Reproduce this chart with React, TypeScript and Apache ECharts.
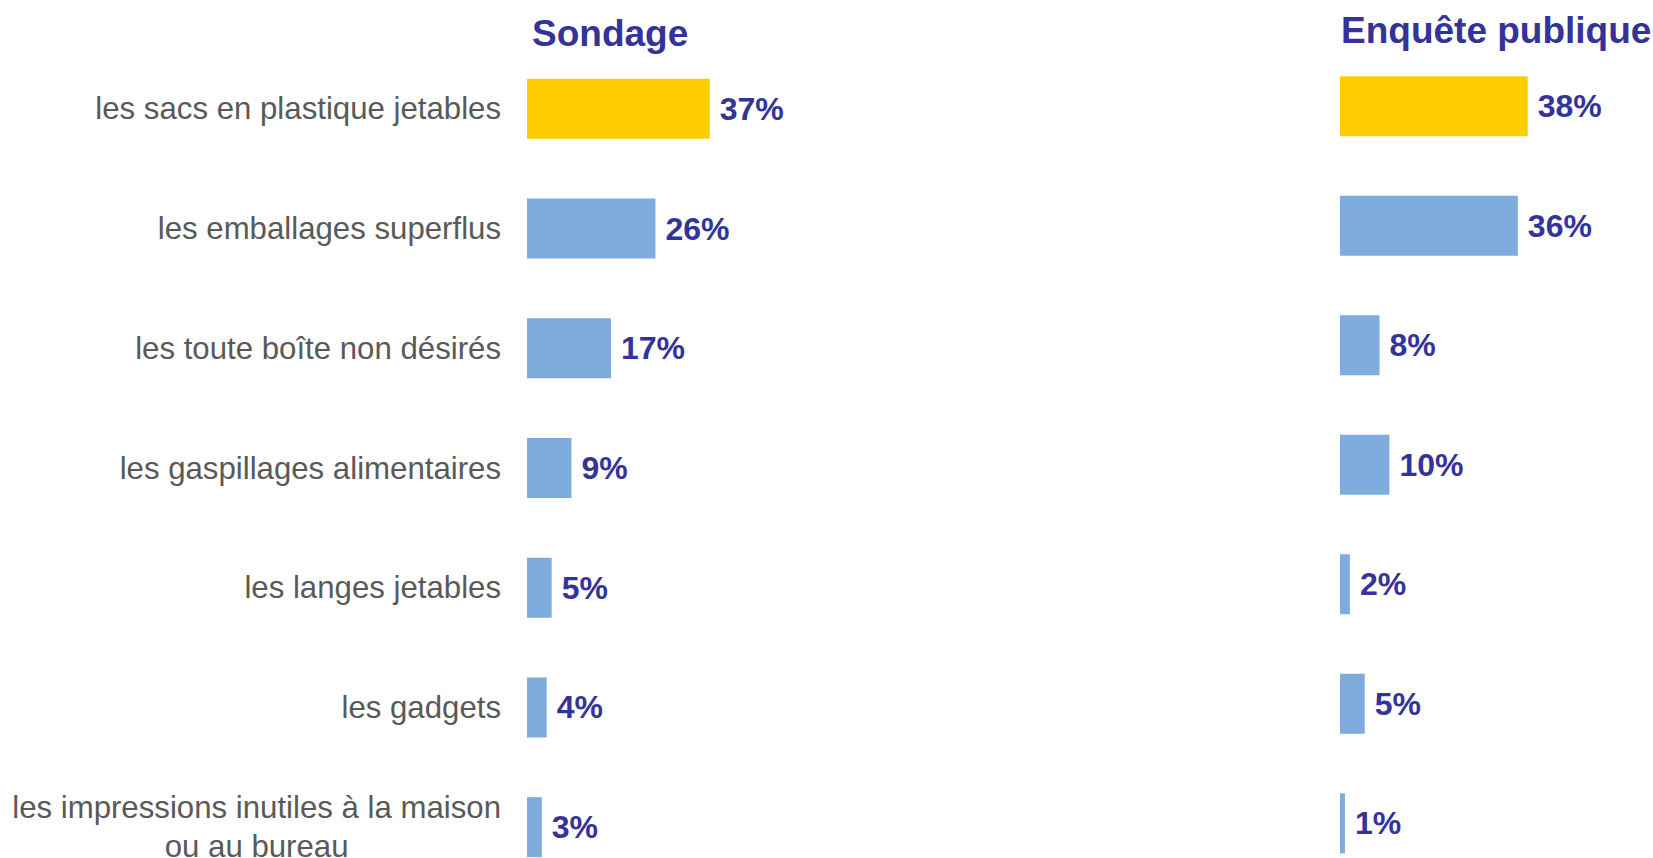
import React, { useEffect, useRef } from "react";
import * as echarts from "echarts";

const categories = [
  "les sacs en plastique jetables",
  "les emballages superflus",
  "les toute boîte non désirés",
  "les gaspillages alimentaires",
  "les langes jetables",
  "les gadgets",
  "les impressions inutiles à la maison\nou au bureau",
];
const sondageValues = [37, 26, 17, 9, 5, 4, 3];
const enqueteValues = [38, 36, 8, 10, 2, 5, 1];
const titles = ["Sondage", "Enquête publique"];

const FONT = "'Liberation Sans', Arial, Helvetica, sans-serif";
const GOLD = "#FFCC00";
const BLUE = "#7DACDD";
const NAVY = "#333399";
const PX_PER_PCT = 4.94;
const XMAX = 60;

function barData(values: number[]) {
  return values.map((v, i) => ({
    value: v,
    itemStyle: { color: i === 0 ? GOLD : BLUE },
  }));
}

export default function App() {
  const ref = useRef<HTMLDivElement>(null);
  useEffect(() => {
    document.body.style.margin = "0";
    document.body.style.overflow = "hidden";
    const chart = echarts.init(ref.current!, undefined, { renderer: "svg" });
    const gridW = XMAX * PX_PER_PCT;
    const labelStyle = {
      show: true,
      position: "right" as const,
      distance: 10,
      formatter: "{c}%",
      color: NAVY,
      fontFamily: FONT,
      fontWeight: "bold" as const,
      fontSize: 32,
    };
    chart.setOption({
      animation: false,
      backgroundColor: "#ffffff",
      title: [
        {
          text: titles[0],
          left: 527,
          top: 10,
          textStyle: { color: NAVY, fontFamily: FONT, fontWeight: "bold", fontSize: 37 },
        },
        {
          text: titles[1],
          left: 1336,
          top: 7,
          textStyle: { color: NAVY, fontFamily: FONT, fontWeight: "bold", fontSize: 37 },
        },
      ],
      grid: [
        { left: 527, top: 49, width: gridW, height: 838 },
        { left: 1340, top: 46.5, width: gridW, height: 836.5 },
      ],
      xAxis: [
        { type: "value", gridIndex: 0, min: 0, max: XMAX, show: false },
        { type: "value", gridIndex: 1, min: 0, max: XMAX, show: false },
      ],
      yAxis: [
        {
          type: "category",
          gridIndex: 0,
          inverse: true,
          data: categories,
          axisLine: { show: false },
          axisTick: { show: false },
          splitLine: { show: false },
          axisLabel: {
            margin: 26,
            align: "right",
            formatter: (v: string) =>
              v.split("\n").map((l) => "{a|" + l + "}").join("\n"),
            rich: {
              a: {
                align: "center",
                color: "#595959",
                fontFamily: FONT,
                fontSize: 31.2,
                lineHeight: 39,
              },
            },
          },
        },
        {
          type: "category",
          gridIndex: 1,
          inverse: true,
          data: categories,
          axisLine: { show: false },
          axisTick: { show: false },
          splitLine: { show: false },
          axisLabel: { show: false },
        },
      ],
      series: [
        {
          type: "bar",
          xAxisIndex: 0,
          yAxisIndex: 0,
          barWidth: 60,
          data: barData(sondageValues),
          label: labelStyle,
        },
        {
          type: "bar",
          xAxisIndex: 1,
          yAxisIndex: 1,
          barWidth: 60,
          data: barData(enqueteValues),
          label: labelStyle,
        },
      ],
    });
    return () => chart.dispose();
  }, []);
  return (
    <div
      ref={ref}
      style={{ position: "fixed", left: 0, top: 0, width: 1653, height: 920 }}
    />
  );
}
